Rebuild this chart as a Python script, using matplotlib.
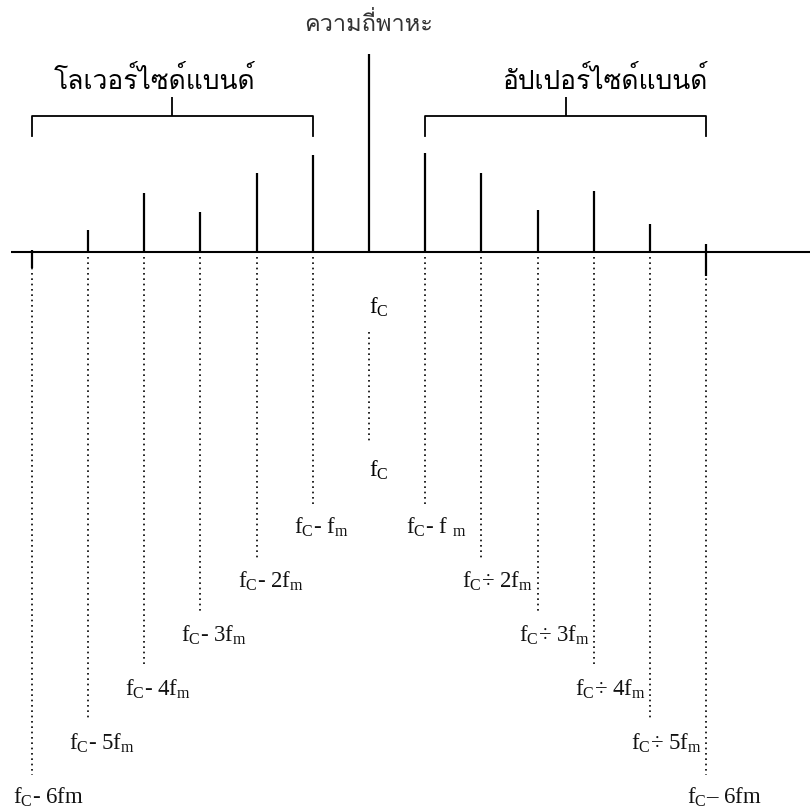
import matplotlib
matplotlib.use("Agg")
import numpy as np
import matplotlib.pyplot as plt
from matplotlib import font_manager
from matplotlib.ft2font import FT2Font

# sideband number n (carrier = 0) and relative amplitude of each line
orders = [-5, -4, -3, -2, -1, 0, 1, 2, 3, 4, 5]
amplitude = [0.11, 0.30, 0.20, 0.40, 0.49, 1.00, 0.50, 0.40, 0.21, 0.31, 0.14]
# the two outermost lines (n = -6 and +6) are only small marks across the axis
end_orders = [-6, 6]
end_top = [0.01, 0.04]
end_bottom = [-0.08, -0.12]

lower_labels = ["f$_\\mathrm{C}$- f$_\\mathrm{m}$", "f$_\\mathrm{C}$- 2f$_\\mathrm{m}$",
                "f$_\\mathrm{C}$- 3f$_\\mathrm{m}$", "f$_\\mathrm{C}$- 4f$_\\mathrm{m}$",
                "f$_\\mathrm{C}$- 5f$_\\mathrm{m}$", "f$_\\mathrm{C}$- 6fm"]
upper_labels = ["f$_\\mathrm{C}$- f $_\\mathrm{m}$", "f$_\\mathrm{C}$÷ 2f$_\\mathrm{m}$",
                "f$_\\mathrm{C}$÷ 3f$_\\mathrm{m}$", "f$_\\mathrm{C}$÷ 4f$_\\mathrm{m}$",
                "f$_\\mathrm{C}$÷ 5f$_\\mathrm{m}$", "f$_\\mathrm{C}$– 6fm"]
carrier_label = "f$_\\mathrm{C}$"
title_carrier = "ความถี่พาหะ"
title_lower = "โลเวอร์ไซด์แบนด์"
title_upper = "อัปเปอร์ไซด์แบนด์"

# look for any installed font that has Thai glyphs
thai_font = None
for f in font_manager.fontManager.ttflist:
    try:
        if FT2Font(f.fname).get_char_index(ord("ก")):
            thai_font = f.name
            break
    except Exception:
        pass
thai_family = [thai_font, "DejaVu Sans"] if thai_font else ["DejaVu Sans"]

plt.rcParams["mathtext.fontset"] = "custom"
plt.rcParams["mathtext.rm"] = "Liberation Serif"
plt.rcParams["font.family"] = ["Liberation Serif", "DejaVu Serif"]

# pixel layout helpers: carrier line at x=369 px, 56.17 px per order, axis at y=252 px
PX0, STEP, BASE, UNIT = 369.0, 56.17, 252.0, 198.0


def py(p):
    return (BASE - p) / UNIT


def px(p):
    return (p - PX0) / STEP


fig = plt.figure(figsize=(8.1, 8.1), dpi=100)
ax = fig.add_axes([0, 0, 1, 1])
ax.set_xlim(px(0), px(810))
ax.set_ylim(py(810), py(0))
ax.axis("off")

# axis line
ax.hlines(0, px(11), px(810), color="black", lw=1.5)

# spectral lines
ax.vlines(orders, 0, amplitude, color="black", lw=1.6)
ax.vlines(end_orders, end_bottom, end_top, color="black", lw=1.6)

# dotted drop lines and their labels (staircase going outward)
all_lines = sorted([o for o in orders if o != 0] + end_orders)
for n in all_lines:
    k = abs(n)
    row = 527 + 54 * (k - 1)
    ax.vlines(n, py(257), py(row - 22), color="black", lw=1.2,
              linestyles=[(0, (1, 2.2))])
    lab = lower_labels[k - 1] if n < 0 else upper_labels[k - 1]
    ax.text(n + px(PX0 - 19), py(row), lab, fontsize=16.5, ha="left", va="center",
            color="#111111")

# carrier labels
ax.text(0, py(307), carrier_label, fontsize=16.5, ha="left", va="center")
ax.vlines(0, py(332), py(443), color="black", lw=1.2, linestyles=[(0, (1, 2.2))])
ax.text(0, py(470), carrier_label, fontsize=16.5, ha="left", va="center")

# sideband brackets
lower_side = [o for o in orders + end_orders if o < 0]
upper_side = [o for o in orders + end_orders if o > 0]
yb, ye, yt = py(116), py(136), py(97)
for side in (lower_side, upper_side):
    a, b = min(side), max(side)
    ax.plot([a, a, b, b], [ye, yb, yb, ye], color="black", lw=1.3)
    m = (a + b) / 2
    ax.vlines(m, yb, yt, color="black", lw=1.3)

ax.text(-3.81, py(80), title_lower, fontsize=19, ha="center", va="center",
        family=thai_family)
ax.text(4.2, py(80), title_upper, fontsize=19, ha="center", va="center",
        family=thai_family)
ax.text(0, py(24), title_carrier, fontsize=17, ha="center", va="center",
        family=thai_family, color="#333333")

fig.savefig("out.png", dpi=100, facecolor="white")
